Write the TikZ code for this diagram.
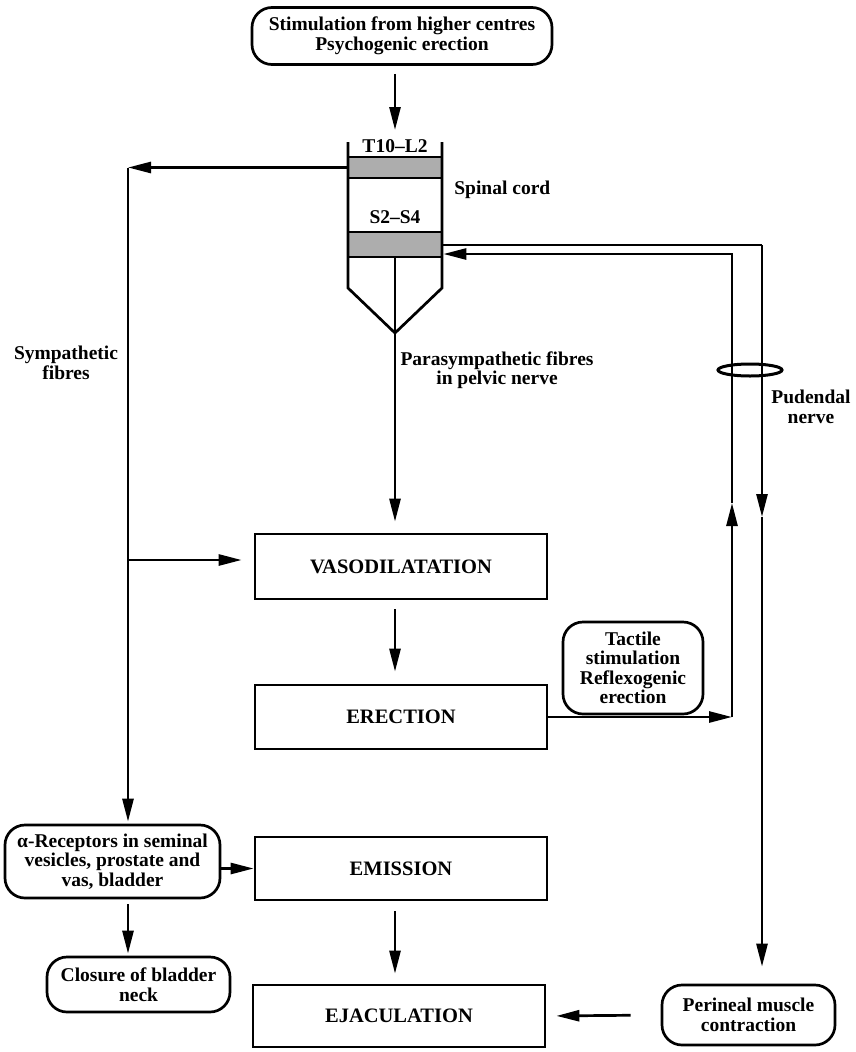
\documentclass[tikz,border=0pt]{standalone}
\usepackage{fontspec}
\setmainfont{Liberation Serif}
\usetikzlibrary{arrows.meta,shapes.geometric}
\newcommand\lblf{\fontsize{19.5}{19.5}\selectfont\bfseries}
\newcommand\capf{\fontsize{20.5}{21}\selectfont\bfseries}
\begin{document}
\begin{tikzpicture}[x=1pt,y=-1pt,line width=2.7pt,
  arr/.style={-{Triangle[length=23pt,width=11pt]}},
  rbox/.style={draw,rounded corners=20pt,align=center,inner sep=0pt,font=\lblf},
  sbox/.style={draw,inner sep=0pt,font=\capf,minimum width=292pt},
  lab/.style={align=center,font=\lblf,inner sep=0pt},
  band/.style={draw,fill=black!32,minimum width=94pt,inner sep=0pt}]
\fill[white] (0,0) rectangle (855,1052);
\useasboundingbox (0,0) rectangle (855,1052);

% boxes
\node[rbox,minimum width=300pt,minimum height=57pt] (top) at (402,36)
  {Stimulation from higher centres\\Psychogenic erection};
\node[sbox,minimum height=65pt] (vaso) at (401,566.5) {VASODILATATION};
\node[sbox,minimum height=64pt] (ere) at (401,717) {ERECTION};
\node[sbox,minimum height=63pt] (emis) at (401,868.5) {EMISSION};
\node[sbox,minimum height=62pt] (ejac) at (399,1016) {EJACULATION};
\node[rbox,minimum width=140pt,minimum height=92pt] (tact) at (633,668)
  {Tactile\\stimulation\\Reflexogenic\\erection};
\node[rbox,minimum width=215pt,minimum height=73pt] (alpha) at (112.5,861.5)
  {α-Receptors in seminal\\vesicles, prostate and\\vas, bladder};
\node[rbox,minimum width=183pt,minimum height=55pt] (close) at (138.5,984.5)
  {Closure of bladder\\neck};
\node[rbox,minimum width=173pt,minimum height=60pt] (peri) at (748.5,1015)
  {Perineal muscle\\contraction};

% spinal cord
\node[band,minimum height=21pt] (band1) at (395,167.5) {};
\node[band,minimum height=25pt] (band2) at (395,244.5) {};
\coordinate (spine) at (395,142);
\draw (348,142) -- (348,288) -- (395,333) -- (442,288) -- (442,142);
\node[lab] (t10) at (395,146) {T10–L2};
\node[lab] (s2) at (395,217) {S2–S4};
\node[lab,anchor=west] (spc) at (453,190) {Spinal cord};

% labels
\node[lab] (symp) at (66,363) {Sympathetic\\fibres};
\node[lab] (para) at (497,370) {Parasympathetic fibres\\in pelvic nerve};
\node[lab] (pud) at (811,407) {Pudendal\\nerve};
\node[draw,ellipse,minimum width=64pt,minimum height=12pt,inner sep=0pt,line width=3pt] (ring) at (750,370) {};

% coordinates
\coordinate (symc) at (128,167.5);
\coordinate (br) at (128,560);
\coordinate (rin) at (732,254);
\coordinate (rmid) at (732,503);
\coordinate (rout) at (762,245);
\coordinate (rmid2) at (762,517);

% connectors
\draw[arr,shorten <=8pt,shorten >=12pt] (top.south -| spine) -- (spine);
\draw[arr] (band1.west) -- (symc);
\draw[arr,shorten >=2pt] (symc) -- (symc |- alpha.north);
\draw[arr,shorten >=12pt] (br) -- (br -| vaso.west);
\draw[arr,shorten >=11pt] (band2.south) -- (band2.south |- vaso.north);
\draw[arr,shorten <=9pt,shorten >=12pt] (vaso.south -| band2) -- (ere.north -| band2);
\draw[arr] (ere.east) -- (ere.east -| rin);
\draw[arr] (ere.east -| rin) -- (rmid);
\draw[arr] (rmid) -- (rin) -- (rin -| band2.east);
\draw (rout -| band2.east) -- (rout);
\draw[arr] (rout) -- (rmid2);
\draw[arr,shorten >=17pt] (rmid2) -- (rout |- peri.north);
\draw[arr] (alpha.east |- emis.west) -- (emis.west);
\draw[arr,shorten <=5pt,shorten >=2pt] (symc |- alpha.south) -- (symc |- close.north);
\draw[arr,shorten <=10pt,shorten >=10pt] (emis.south -| band2) -- (ejac.north -| band2);
\draw[arr,shorten <=30pt,shorten >=10pt] (peri.west) -- (ejac.east);
\end{tikzpicture}
\end{document}
